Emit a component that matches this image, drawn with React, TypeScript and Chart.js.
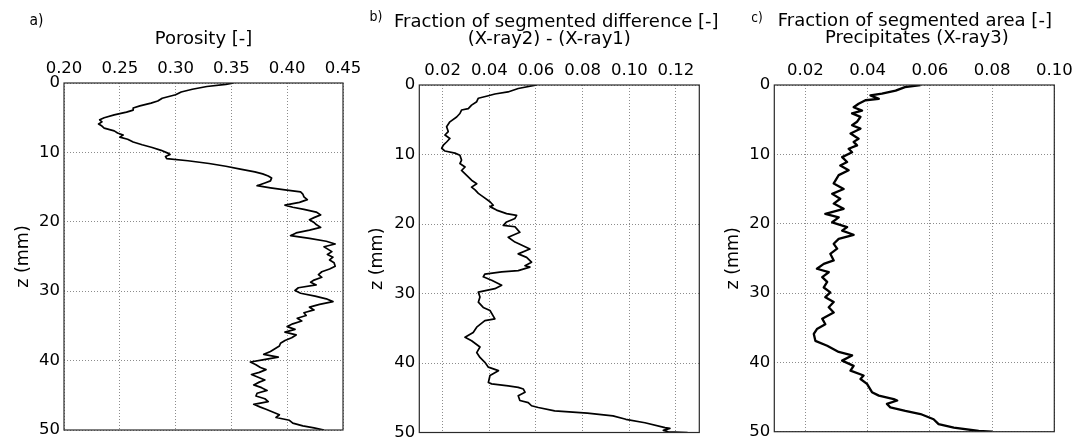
import React, { useEffect, useRef } from 'react';
import { Chart, registerables } from 'chart.js';

Chart.register(...registerables);

const W = 1088;
const H = 440;
const FONT = "'DejaVu Sans', 'Bitstream Vera Sans', sans-serif";
const LABEL_FONT = "'Liberation Sans Narrow', 'DejaVu Sans Condensed', 'Open Sans', sans-serif";

// ---------- data: panel a (porosity) ----------
const zA = [0, 0.2, 0.5, 0.9, 1.3, 1.7, 2.2, 2.6, 2.9, 3.3,
  3.6, 3.9, 4.2, 4.6, 5.0, 5.3, 5.6, 5.9, 6.2, 6.5,
  6.9, 7.2, 7.5, 7.8, 8.1, 8.5, 8.9, 9.3, 9.7, 10.1,
  10.3, 10.6, 10.9, 11.2, 11.6, 12.0, 12.4, 12.8, 13.1, 13.4,
  13.7, 14.1, 14.4, 14.8, 15.1, 15.4, 15.7, 16.0, 16.4, 16.8,
  17.2, 17.6, 17.9, 18.2, 18.6, 19.0, 19.4, 19.7, 20.1, 20.4,
  20.8, 21.2, 21.6, 22.0, 22.4, 22.8, 23.2, 23.6, 23.9, 24.3,
  24.7, 25.1, 25.5, 25.9, 26.4, 26.8, 27.2, 27.6, 28.0, 28.4,
  28.7, 29.1, 29.5, 29.9, 30.3, 30.7, 31.1, 31.5, 31.9, 32.3,
  32.7, 33.1, 33.5, 33.9, 34.3, 34.7, 35.1, 35.5, 35.9, 36.3,
  36.7, 37.1, 37.5, 37.9, 38.3, 38.7, 39.1, 39.5, 39.9, 40.2,
  40.6, 41.0, 41.3, 41.7, 42.0, 42.4, 42.8, 43.1, 43.5, 43.9,
  44.3, 44.7, 45.1, 45.5, 45.9, 46.3, 46.7, 47.0, 47.4, 47.8,
  48.2, 48.6, 49.0, 49.4, 49.7, 50.0];
const porosity = [0.352, 0.345, 0.328, 0.315, 0.305, 0.300, 0.288, 0.284, 0.278, 0.268,
  0.262, 0.262, 0.256, 0.245, 0.236, 0.232, 0.234, 0.231, 0.234, 0.236,
  0.245, 0.248, 0.253, 0.250, 0.257, 0.262, 0.270, 0.279, 0.287, 0.293,
  0.295, 0.291, 0.292, 0.311, 0.330, 0.345, 0.358, 0.371, 0.378, 0.383,
  0.386, 0.385, 0.380, 0.373, 0.385, 0.398, 0.412, 0.414, 0.415, 0.418,
  0.411, 0.398, 0.405, 0.415, 0.426, 0.430, 0.424, 0.420, 0.424, 0.426,
  0.430, 0.420, 0.408, 0.403, 0.420, 0.435, 0.443, 0.433, 0.436, 0.440,
  0.436, 0.441, 0.438, 0.442, 0.443, 0.438, 0.431, 0.428, 0.431, 0.424,
  0.421, 0.426, 0.410, 0.407, 0.412, 0.425, 0.435, 0.441, 0.429, 0.420,
  0.424, 0.415, 0.417, 0.409, 0.413, 0.405, 0.400, 0.407, 0.398, 0.408,
  0.404, 0.398, 0.394, 0.393, 0.389, 0.385, 0.379, 0.392, 0.378, 0.367,
  0.372, 0.376, 0.381, 0.375, 0.368, 0.374, 0.380, 0.375, 0.370, 0.377,
  0.382, 0.373, 0.372, 0.380, 0.383, 0.370, 0.376, 0.381, 0.387, 0.393,
  0.390, 0.402, 0.405, 0.414, 0.424, 0.433];
const ticksA = [0.20, 0.25, 0.30, 0.35, 0.40, 0.45];

// ---------- data: panel b (segmented difference) ----------
const zB = [0, 0.5, 1.0, 1.3, 1.55, 1.9, 2.4, 2.9, 3.4, 3.6,
  4.1, 4.6, 5.3, 6.0, 6.7, 7.2, 7.7, 8.2, 8.65, 9.1,
  9.5, 9.8, 10.1, 10.8, 11.3, 11.8, 12.3, 13.0, 13.7, 14.2,
  14.7, 15.1, 15.6, 16.1, 16.8, 17.3, 17.5, 18.0, 18.5, 18.75,
  19.2, 19.7, 20.2, 20.4, 21.2, 21.9, 22.6, 22.8, 23.6, 24.3,
  24.8, 25.5, 26.0, 26.2, 26.7, 26.9, 27.2, 27.6, 28.1, 28.8,
  29.3, 29.8, 30.5, 31.25, 32.0, 32.45, 33.65, 33.9, 34.85, 35.6,
  36.3, 36.8, 37.7, 38.5, 39.2, 39.9, 40.6, 41.1, 41.8, 42.8,
  43.0, 43.3, 43.5, 43.75, 44.2, 44.7, 45.4, 45.7, 46.15, 46.4,
  46.9, 47.2, 47.6, 48.1, 48.6, 49.3, 49.4, 49.7, 49.9, 50.0];
const fracDiff = [0.0603, 0.0524, 0.048, 0.0424, 0.0396, 0.0353, 0.0346, 0.0324, 0.031, 0.0281,
  0.0274, 0.026, 0.0231, 0.0217, 0.0224, 0.021, 0.0231, 0.0217, 0.0203, 0.0196,
  0.021, 0.0253, 0.0274, 0.0281, 0.0274, 0.0296, 0.0281, 0.0303, 0.0324, 0.0346,
  0.0324, 0.0339, 0.0353, 0.0374, 0.0403, 0.0417, 0.0403, 0.0431, 0.0474, 0.0517,
  0.051, 0.0474, 0.046, 0.051, 0.0531, 0.0481, 0.051, 0.0524, 0.0574, 0.0524,
  0.056, 0.0581, 0.0553, 0.0574, 0.0524, 0.0453, 0.0381, 0.0374, 0.041, 0.0453,
  0.0424, 0.0353, 0.036, 0.0353, 0.0374, 0.0403, 0.0424, 0.0381, 0.0346, 0.0331,
  0.0296, 0.0324, 0.036, 0.0346, 0.036, 0.0381, 0.0396, 0.0439, 0.0403, 0.0396,
  0.041, 0.0481, 0.0524, 0.0546, 0.0553, 0.0524, 0.0531, 0.0567, 0.0581, 0.061,
  0.068, 0.082, 0.093, 0.0985, 0.1067, 0.1153, 0.1174, 0.1146, 0.1167, 0.125];
const ticksB = [0.02, 0.04, 0.06, 0.08, 0.10, 0.12];

// ---------- data: panel c (precipitates) ----------
const zC = [0, 0.3, 0.8, 1.25, 1.5, 2.0, 2.2, 2.7, 3.2, 3.7,
  4.1, 4.6, 5.3, 5.8, 6.3, 7.0, 7.75, 8.2, 8.7, 9.2,
  9.7, 10.4, 11.1, 11.6, 12.3, 13.0, 14.2, 15.0, 15.7, 16.4,
  17.1, 17.85, 18.6, 19.1, 19.8, 20.5, 21.0, 21.6, 22.2, 22.9,
  23.6, 24.35, 25.3, 25.8, 26.5, 27.0, 27.7, 28.4, 29.2, 29.9,
  30.6, 31.3, 32.05, 32.8, 33.7, 34.5, 35.2, 35.9, 36.9, 37.6,
  38.5, 39.0, 39.75, 40.5, 41.2, 41.9, 42.4, 43.1, 44.3, 44.8,
  45.3, 45.5, 46.0, 46.5, 47.0, 47.45, 48.2, 48.9, 49.4, 49.9, 50];
const fracArea = [0.057, 0.052, 0.049, 0.0446, 0.0409, 0.0436, 0.0393, 0.0371, 0.0355, 0.0382,
  0.035, 0.0377, 0.0366, 0.035, 0.0377, 0.0345, 0.0371, 0.0355, 0.0366, 0.0339,
  0.035, 0.0318, 0.0334, 0.0312, 0.0339, 0.0307, 0.0291, 0.0323, 0.0286, 0.0312,
  0.0291, 0.0323, 0.0264, 0.0307, 0.0286, 0.0334, 0.0318, 0.0355, 0.0307, 0.0291,
  0.0302, 0.028, 0.0291, 0.0259, 0.0237, 0.0275, 0.0254, 0.027, 0.0259, 0.028,
  0.0264, 0.0291, 0.0275, 0.0291, 0.0254, 0.0264, 0.0237, 0.0227, 0.0232, 0.027,
  0.0307, 0.035, 0.0318, 0.0355, 0.0345, 0.0387, 0.0377, 0.0398, 0.0414, 0.0436,
  0.0484, 0.0495, 0.0462, 0.0473, 0.0521, 0.057, 0.0612, 0.0628, 0.0677, 0.0757, 0.080];
const ticksC = [0.02, 0.04, 0.06, 0.08, 0.10];

const zTicks = [0, 10, 20, 30, 40, 50];
const yTitle = 'z (mm)';
const titleA = ['Porosity [-]'];
const titleB = ['Fraction of segmented difference [-]', '(X-ray2) - (X-ray1)'];
const titleC = ['Fraction of segmented area [-]', 'Precipitates (X-ray3)'];

type Panel = {
  label: string; labelX: number; labelY: number; labelSize: number;
  title: string[]; titleDx: number[]; titleY: number[];
  z: number[]; v: number[]; xMin: number; xMax: number; xTicks: number[];
  area: { left: number; top: number; right: number; bottom: number };
  axisLeft: number; yTitlePad: number; lw: number;
};

const PANELS: Panel[] = [
  { label: 'a)', labelX: 36.5, labelY: 20.5, labelSize: 15.5, title: titleA, titleDx: [0], titleY: [39],
    z: zA, v: porosity, xMin: 0.20, xMax: 0.45, xTicks: ticksA,
    area: { left: 64, top: 83, right: 343, bottom: 430 }, axisLeft: 0, yTitlePad: 13, lw: 1.7 },
  { label: 'b)', labelX: 376, labelY: 17, labelSize: 14, title: titleB, titleDx: [-3, -10], titleY: [22, 39],
    z: zB, v: fracDiff, xMin: 0.01, xMax: 0.13, xTicks: ticksB,
    area: { left: 419.3, top: 85, right: 699.3, bottom: 432.5 }, axisLeft: 360, yTitlePad: 6.8, lw: 1.7 },
  { label: 'c)', labelX: 757, labelY: 18, labelSize: 13.5, title: titleC, titleDx: [0.5, 2.5], titleY: [21, 38],
    z: zC, v: fracArea, xMin: 0.01, xMax: 0.10, xTicks: ticksC,
    area: { left: 774.3, top: 85, right: 1054.3, bottom: 431.7 }, axisLeft: 720, yTitlePad: 2.6, lw: 2.3 },
];

const framePlugin = {
  id: 'frame',
  afterDatasetsDraw(chart: any) {
    const { left, top, right, bottom } = chart.chartArea;
    const ctx = chart.ctx;
    ctx.save();
    ctx.strokeStyle = '#2a2a2a';
    ctx.lineWidth = 1.2;
    ctx.setLineDash([]);
    ctx.strokeRect(left, top, right - left, bottom - top);
    ctx.restore();
  },
};

// panel letter and the (multi-line) x-axis title above the top axis
const textPlugin = {
  id: 'panelText',
  afterDraw(chart: any, _args: any, opts: any) {
    const ctx = chart.ctx;
    const { left, right } = chart.chartArea;
    const cx = (left + right) / 2;
    ctx.save();
    ctx.fillStyle = '#000';
    ctx.textAlign = 'center';
    ctx.textBaseline = 'middle';
    ctx.font = `${opts.labelSize}px ${LABEL_FONT}`;
    ctx.fillText(opts.label, opts.labelX, opts.labelY);
    ctx.font = `18px ${FONT}`;
    (opts.title as string[]).forEach((t, i) => {
      ctx.fillText(t, cx + opts.titleDx[i], opts.titleY[i]);
    });
    ctx.restore();
  },
};

function makeConfig(p: Panel): any {
  const grid = { color: '#8c8c8c', lineWidth: 1, drawTicks: false };
  const border = { display: false, dash: [1, 2] };
  return {
    type: 'scatter',
    data: {
      datasets: [{
        data: p.z.map((z, i) => ({ x: p.v[i], y: z })),
        showLine: true,
        borderColor: '#000',
        backgroundColor: '#000',
        borderWidth: p.lw,
        borderJoinStyle: 'round',
        pointRadius: 0,
        tension: 0,
        fill: false,
      }],
    },
    options: {
      animation: false,
      responsive: false,
      events: [],
      layout: { padding: { left: p.axisLeft, top: 0, right: W - p.area.right, bottom: H - p.area.bottom } },
      plugins: {
        legend: { display: false },
        tooltip: { enabled: false },
        title: { display: false },
        panelText: {
          label: p.label, labelX: p.labelX, labelY: p.labelY, labelSize: p.labelSize,
          title: p.title, titleDx: p.titleDx, titleY: p.titleY,
        },
      },
      scales: {
        x: {
          type: 'linear', position: 'top', min: p.xMin, max: p.xMax,
          afterBuildTicks: (s: any) => { s.ticks = p.xTicks.map((v) => ({ value: v })); },
          afterFit: (s: any) => { s.height = p.area.top; s.paddingLeft = 0; s.paddingRight = 0; },
          ticks: {
            callback: (v: any) => Number(v).toFixed(2),
            font: { family: FONT, size: 16.5 }, color: '#000', padding: 4,
            maxRotation: 0, minRotation: 0, autoSkip: false,
          },
          grid, border,
          title: { display: false },
        },
        y: {
          type: 'linear', position: 'left', reverse: true, min: 0, max: 50,
          afterBuildTicks: (s: any) => { s.ticks = zTicks.map((v) => ({ value: v })); },
          afterFit: (s: any) => { s.width = p.area.left - p.axisLeft; s.paddingTop = 0; s.paddingBottom = 0; },
          ticks: {
            callback: (v: any) => String(v),
            font: { family: FONT, size: 16.5 }, color: '#000', padding: 4, autoSkip: false,
          },
          grid, border,
          title: {
            display: true, text: yTitle, color: '#000',
            font: { family: FONT, size: 17.5, lineHeight: 1.2 },
            padding: { top: p.yTitlePad, bottom: 0 },
          },
        },
      },
    },
    plugins: [framePlugin, textPlugin],
  };
}

export default function App() {
  const r0 = useRef<HTMLCanvasElement>(null);
  const r1 = useRef<HTMLCanvasElement>(null);
  const r2 = useRef<HTMLCanvasElement>(null);
  useEffect(() => {
    const refs = [r0, r1, r2];
    const charts = PANELS.map((p, i) => new Chart(refs[i].current as HTMLCanvasElement, makeConfig(p)));
    return () => charts.forEach((c) => c.destroy());
  }, []);
  const refs = [r0, r1, r2];
  return (
    <div style={{ position: 'absolute', left: 0, top: 0, width: W, height: H, background: '#fff', overflow: 'hidden' }}>
      {PANELS.map((p, i) => (
        <canvas key={p.label} ref={refs[i]} width={W} height={H}
          style={{ position: 'absolute', left: 0, top: 0, width: W, height: H }} />
      ))}
    </div>
  );
}
